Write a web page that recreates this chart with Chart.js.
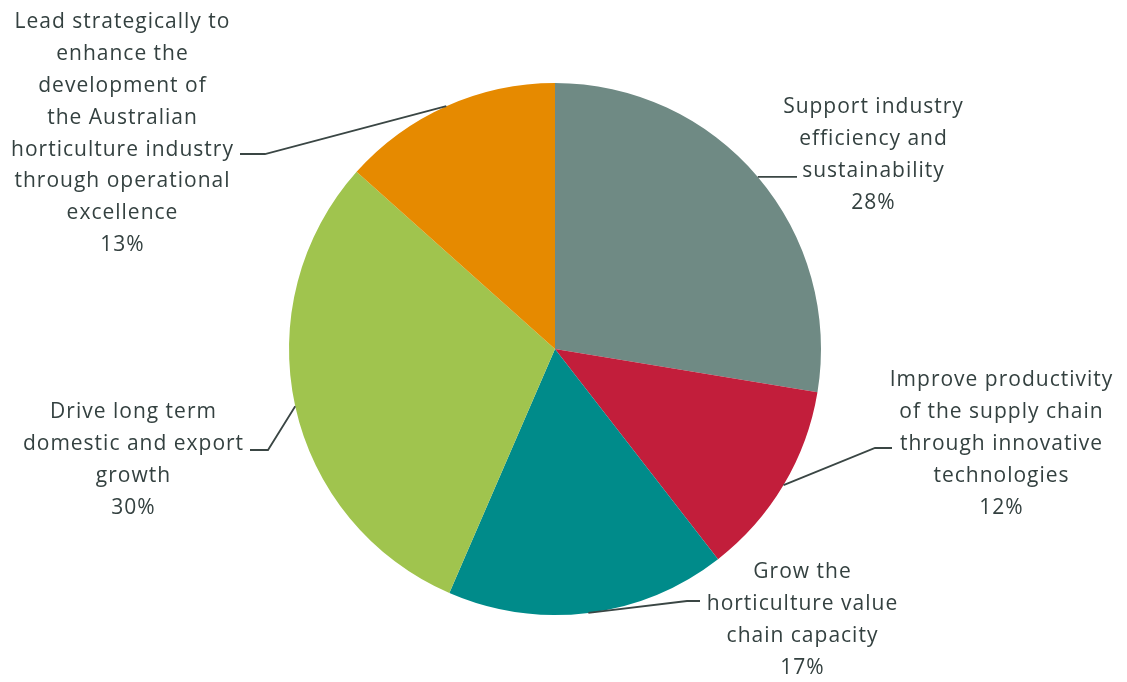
<!DOCTYPE html>
<html>
<head>
<meta charset="utf-8">
<script src="https://cdn.jsdelivr.net/npm/chart.js@4.4.0/dist/chart.umd.min.js"></script>
<style>
html,body{margin:0;padding:0;background:#fff;}
#wrap{width:1127px;height:682px;position:relative;}
</style>
</head>
<body>
<div id="wrap"><canvas id="c" width="1127" height="682"></canvas></div>
<script>
// ---- data ----
const categories = [
  ["Support industry", "efficiency and", "sustainability"],
  ["Improve productivity", "of the supply chain", "through innovative", "technologies"],
  ["Grow the", "horticulture value", "chain capacity"],
  ["Drive long term", "domestic and export", "growth"],
  ["Lead strategically to", "enhance the", "development of", "the Australian", "horticulture industry", "through operational", "excellence"]
];
const shares = [27.6, 11.9, 17.0, 30.1, 13.4];
const colors = ["#6F8A84", "#C21E3B", "#008B8A", "#A0C44E", "#E68A00"];

// label layout (center x, first-line y) and leader elbow/end points
const labelLayout = [
  {x: 873, y: 107, elbow: null, end: [797, null]},
  {x: 1001, y: 380, elbow: [875, 448], end: [892, 448]},
  {x: 802, y: 572, elbow: [687, 601], end: [700, 601]},
  {x: 133, y: 412, elbow: [268, 450], end: [250, 450]},
  {x: 122, y: 22, elbow: [265, 154], end: [240, 154]}
];

const labelPlugin = {
  id: 'labels',
  afterDraw(chart) {
    const ctx = chart.ctx;
    const meta = chart.getDatasetMeta(0);
    const total = shares.reduce((a, b) => a + b, 0);
    ctx.save();
    meta.data.forEach((arc, i) => {
      const p = arc.getProps(['x', 'y', 'startAngle', 'endAngle', 'outerRadius'], true);
      const mid = (p.startAngle + p.endAngle) / 2;
      const sx = p.x + Math.cos(mid) * p.outerRadius;
      const sy = p.y + Math.sin(mid) * p.outerRadius;
      const L = labelLayout[i];
      ctx.strokeStyle = '#3a4644';
      ctx.lineWidth = 1.8;
      ctx.beginPath();
      ctx.moveTo(sx, sy);
      if (L.elbow) ctx.lineTo(L.elbow[0], L.elbow[1]);
      ctx.lineTo(L.end[0], L.end[1] == null ? sy : L.end[1]);
      ctx.stroke();
      const lines = categories[i].concat([Math.round(shares[i] / total * 100) + '%']);
      ctx.fillStyle = '#344140';
      ctx.font = '21px "Open Sans"';
      ctx.letterSpacing = '1px';
      ctx.textAlign = 'center';
      ctx.textBaseline = 'middle';
      lines.forEach((t, k) => ctx.fillText(t, L.x + 0.5, L.y + k * 31.9));
    });
    ctx.restore();
  }
};

new Chart(document.getElementById('c'), {
  type: 'pie',
  data: {
    labels: categories.map(c => c.join(' ')),
    datasets: [{data: shares, backgroundColor: colors, borderWidth: 0}]
  },
  options: {
    responsive: false,
    animation: false,
    layout: {padding: {left: 289, right: 306, top: 83, bottom: 67}},
    plugins: {legend: {display: false}, tooltip: {enabled: false}}
  },
  plugins: [labelPlugin]
});
</script>
</body>
</html>
